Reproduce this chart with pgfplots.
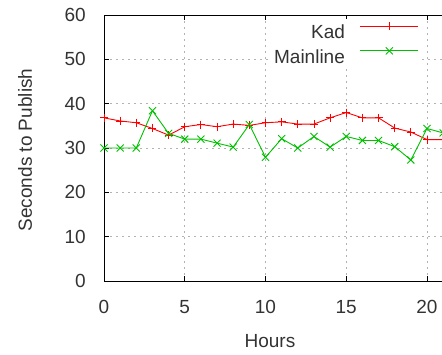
\documentclass[border=0pt]{standalone}
\usepackage{fontspec}
\setmainfont{Liberation Sans}
\usepackage{pgfplots}
\pgfplotsset{compat=1.18}
\definecolor{gpred}{RGB}{255,0,0}
\definecolor{gpgreen}{RGB}{0,192,0}
\begin{document}
\fontsize{19}{22}\selectfont
\begin{tikzpicture}
\path[use as bounding box, clip] (0,0) rectangle (442pt,354pt);
\begin{axis}[
 at={(104pt,73pt)}, anchor=south west,
 scale only axis, width=355.3pt, height=266pt,
 xmin=0, xmax=22, ymin=0, ymax=60,
 xtick={0,5,10,15,20}, ytick={0,10,...,60},
 grid=major, grid style={gray!60, dash pattern=on 2pt off 4pt, line width=1pt},
 tick align=inside, major tick length=5pt,
 axis line style={black, line width=0.9pt},
 tick style={black, line width=0.8pt},
 ticklabel style={font=\fontsize{19}{22}\selectfont, text=black!80},
 /pgf/number format/assume math mode=true,
 xticklabel style={inner sep=0pt, anchor=north, yshift=-19pt},
 yticklabel style={inner sep=0pt, anchor=east, xshift=-18pt},
 xlabel={Hours}, ylabel={Seconds to Publish},
 label style={font=\fontsize{19}{22}\selectfont, text=black!80},
 xlabel style={at={(axis description cs:0.467,-0.2256)}, anchor=center, inner sep=0pt},
 ylabel style={at={(axis description cs:-0.2223,0.4925)}, anchor=center, rotate=0, inner sep=0pt},
 legend plot pos=right, legend cell align=right,
 legend image code/.code={\draw[mark repeat=2,mark phase=2,#1] plot coordinates {(0pt,6.8pt) (29pt,6.8pt) (58pt,6.8pt)};},
 legend style={draw=none, fill=white, inner sep=3pt, row sep=6pt, column sep=15pt,
   font=\fontsize{19}{22}\selectfont, text=black!80,
   at={(axis description cs:0.895,0.985)}, anchor=north east,
   nodes={inner sep=0pt}},
]
\addplot[gpred, line width=0.9pt, mark=+, mark size=4pt] table {
0 36.8
1 36.1
2 35.7
3 34.4
4 32.9
5 34.8
6 35.3
7 34.8
8 35.4
9 35.1
10 35.7
11 35.9
12 35.4
13 35.4
14 36.8
15 38.0
16 36.8
17 36.8
18 34.5
19 33.6
20 31.9
21 31.9
};
\addlegendentry{Kad}
\addplot[gpgreen, line width=0.9pt, mark=x, mark size=5pt] table {
0 30
1 30
2 30
3 38.4
4 33.3
5 32.0
6 32.0
7 31.1
8 30.2
9 35.3
10 27.9
11 32.1
12 30.0
13 32.6
14 30.2
15 32.6
16 31.7
17 31.7
18 30.3
19 27.3
20 34.4
21 33.4
};
\addlegendentry{Mainline}
\end{axis}
\end{tikzpicture}
\end{document}
